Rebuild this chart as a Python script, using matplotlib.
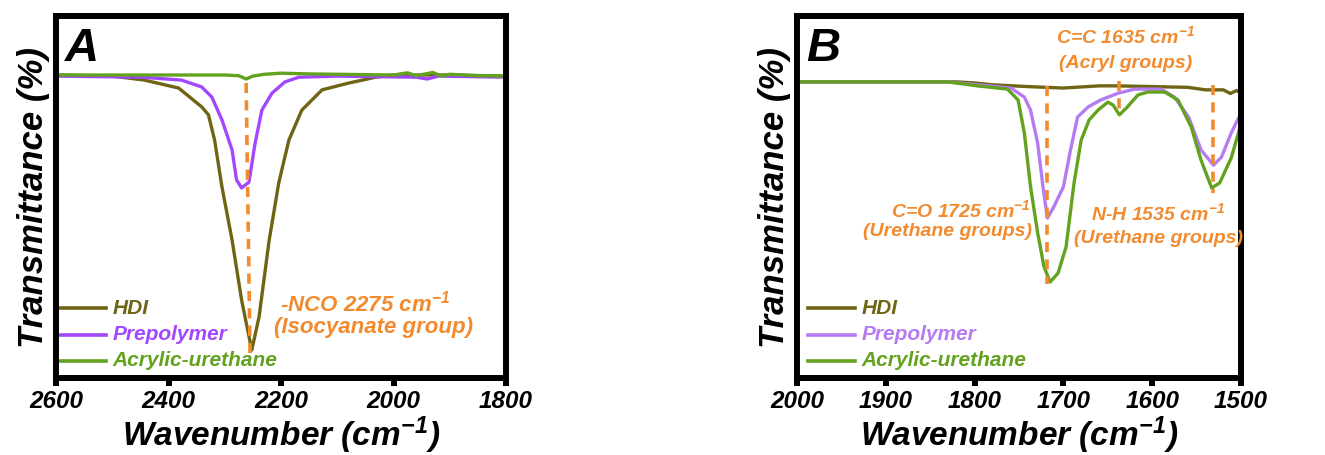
import numpy as np
import matplotlib
matplotlib.use("Agg")
from matplotlib import pyplot as plt

plt.rcParams['font.family'] = ['Liberation Sans', 'DejaVu Sans']
plt.rcParams['font.weight'] = 'bold'
plt.rcParams['font.style'] = 'italic'
plt.rcParams['axes.labelweight'] = 'bold'
plt.rcParams['mathtext.default'] = 'regular'

# ---- panel A data (wavenumber, transmittance %) ----
a_hdi_x = [2600, 2500, 2443, 2382, 2341, 2329, 2318, 2305, 2287, 2270, 2252,
           2239, 2221, 2204, 2186, 2163, 2127, 2079, 2055, 2032, 2000, 1900, 1800]
a_hdi_y = [83.7, 83.4, 82.3, 80.1, 74.9, 72.7, 65.7, 52.8, 38.1, 21.5, 7.7,
           16.9, 38.1, 53.9, 65.7, 74.0, 79.6, 81.5, 82.3, 83.1, 83.7, 83.7, 83.4]
a_pre_x = [2600, 2448, 2377, 2341, 2323, 2305, 2287, 2279, 2270, 2257, 2246,
           2234, 2216, 2193, 2168, 2100, 1960, 1940, 1920, 1800]
a_pre_y = [83.4, 83.1, 82.3, 80.4, 77.6, 71.3, 63.0, 54.7, 52.5, 54.1, 64.9,
           74.0, 78.7, 81.8, 83.1, 83.4, 83.1, 82.6, 83.4, 83.1]
a_acr_x = [2600, 2300, 2275, 2262, 2250, 2230, 2200, 2150, 2000, 1975, 1960,
           1930, 1915, 1900, 1850, 1800]
a_acr_y = [83.7, 83.7, 83.5, 82.6, 83.4, 83.9, 84.2, 84.0, 83.7, 84.3, 83.5,
           84.4, 83.4, 83.9, 83.5, 83.4]

# ---- panel B data ----
b_hdi_x = [2000, 1820, 1800, 1780, 1740, 1700, 1660, 1640, 1600, 1560, 1540,
           1520, 1512, 1505, 1500]
b_hdi_y = [81.8, 81.8, 81.5, 81.0, 80.5, 80.1, 80.7, 80.7, 80.5, 80.3, 79.6,
           79.6, 78.6, 79.4, 78.8]
b_pre_x = [2000, 1830, 1797, 1759, 1744, 1737, 1729, 1723, 1718, 1711, 1700,
           1692, 1684, 1672, 1658, 1638, 1620, 1590, 1575, 1559, 1545, 1531,
           1522, 1511, 1500]
b_pre_y = [81.8, 81.8, 81.0, 80.1, 77.6, 74.0, 64.9, 52.8, 44.2, 47.2, 52.8,
           63.0, 72.1, 74.9, 76.8, 78.7, 79.8, 79.8, 77.6, 72.1, 63.0, 58.8,
           61.0, 67.7, 73.2]
b_acr_x = [2000, 1830, 1797, 1763, 1751, 1744, 1737, 1729, 1722, 1715, 1706,
           1697, 1688, 1680, 1671, 1661, 1650, 1644, 1637, 1629, 1616, 1605,
           1586, 1571, 1556, 1545, 1533, 1524, 1511, 1500]
b_acr_y = [81.8, 81.8, 80.7, 79.8, 76.8, 67.7, 52.8, 40.1, 30.9, 26.5, 29.0,
           36.2, 53.9, 65.7, 71.3, 74.0, 76.2, 75.4, 72.7, 74.6, 78.2, 79.0,
           79.0, 76.8, 69.3, 60.2, 52.5, 53.9, 60.8, 70.2]

# dashed guide lines: (x_top, x_bottom, y_top, y_bottom)
a_guides = [(2262, 2255, 81.5, 6.5)]
b_guides = [(1719, 1719, 80.7, 26.0), (1637, 1637, 82.0, 72.5), (1531, 1531, 81.0, 51.0)]

c_hdi = '#6e6414'
c_pre_a = '#a347ff'
c_pre_b = '#b57bf2'
c_acr = '#62a21e'
c_org = '#f28a2e'

fig = plt.figure(figsize=(13.25, 4.55), dpi=100)
W, H = 1325, 455
axA = fig.add_axes([56 / W, 1 - 378 / H, 450 / W, 362 / H])
axB = fig.add_axes([797 / W, 1 - 378 / H, 444 / W, 362 / H])


def style(ax, xmin, xmax, ticks):
    ax.set_xlim(xmin, xmax)
    ax.set_ylim(0, 100)
    ax.set_xticks(ticks)
    ax.set_yticks([])
    for s in ax.spines.values():
        s.set_linewidth(4.3)
    ax.tick_params(axis='x', direction='out', length=6, width=4.3, pad=3,
                   labelsize=17.5)
    for lab in ax.get_xticklabels():
        lab.set_fontweight('bold')
        lab.set_fontstyle('italic')
    ax.set_xlabel('Wavenumber (cm$^{-1}$)', fontsize=24, fontweight='bold',
                  fontstyle='italic')
    ax.xaxis.set_label_coords(0.5, -0.102)
    ax.set_ylabel('Transmittance (%)', fontsize=25, fontweight='bold',
                  fontstyle='italic', labelpad=4)


def legend(ax, x0, x1, xt, pre_col):
    items = [('HDI', c_hdi), ('Prepolymer', pre_col), ('Acrylic-urethane', c_acr)]
    for i, (name, col) in enumerate(items):
        yy = 0.193 - i * 0.073
        ax.plot([x0, x1], [yy, yy], transform=ax.transAxes, color=col, lw=2.6,
                clip_on=False)
        ax.text(xt, yy, name, transform=ax.transAxes, color=col, fontsize=15,
                va='center', ha='left')


dash = (0, (2.8, 2.0))

# panel A
axA.plot(a_hdi_x, a_hdi_y, color=c_hdi, lw=2.4)
axA.plot(a_pre_x, a_pre_y, color=c_pre_a, lw=2.4)
axA.plot(a_acr_x, a_acr_y, color=c_acr, lw=2.4)
for xt, xb, yt, yb in a_guides:
    axA.plot([xt, xb], [yt, yb], color=c_org, lw=2.6, ls=dash)
style(axA, 2600, 1800, [2600, 2400, 2200, 2000, 1800])
legend(axA, 0.005, 0.11, 0.125, c_pre_a)
axA.text(2050, 20.7, '-NCO 2275 cm$^{-1}$', color=c_org, fontsize=16,
         ha='center', va='center')
axA.text(2036, 14.0, '(Isocyanate group)', color=c_org, fontsize=16,
         ha='center', va='center')
axA.text(0.02, 0.97, 'A', transform=axA.transAxes, fontsize=34, va='top',
         ha='left')

# panel B
axB.plot(b_hdi_x, b_hdi_y, color=c_hdi, lw=2.4)
axB.plot(b_pre_x, b_pre_y, color=c_pre_b, lw=2.4)
axB.plot(b_acr_x, b_acr_y, color=c_acr, lw=2.4)
for xt, xb, yt, yb in b_guides:
    axB.plot([xt, xb], [yt, yb], color=c_org, lw=2.6, ls=dash)
style(axB, 2000, 1500, [2000, 1900, 1800, 1700, 1600, 1500])
legend(axB, 0.025, 0.13, 0.145, c_pre_b)
axB.text(1630, 94.5, 'C=C 1635 cm$^{-1}$', color=c_org, fontsize=14,
         ha='center', va='center')
axB.text(1630, 87.0, '(Acryl groups)', color=c_org, fontsize=14,
         ha='center', va='center')
axB.text(1737, 46.5, 'C=O 1725 cm$^{-1}$', color=c_org, fontsize=14,
         ha='right', va='center')
axB.text(1735, 40.5, '(Urethane groups)', color=c_org, fontsize=14,
         ha='right', va='center')
axB.text(1593, 45.5, 'N-H 1535 cm$^{-1}$', color=c_org, fontsize=14,
         ha='center', va='center')
axB.text(1593, 38.5, '(Urethane groups)', color=c_org, fontsize=14,
         ha='center', va='center')
axB.text(0.02, 0.97, 'B', transform=axB.transAxes, fontsize=34, va='top',
         ha='left')

fig.savefig('out.png', dpi=100)
